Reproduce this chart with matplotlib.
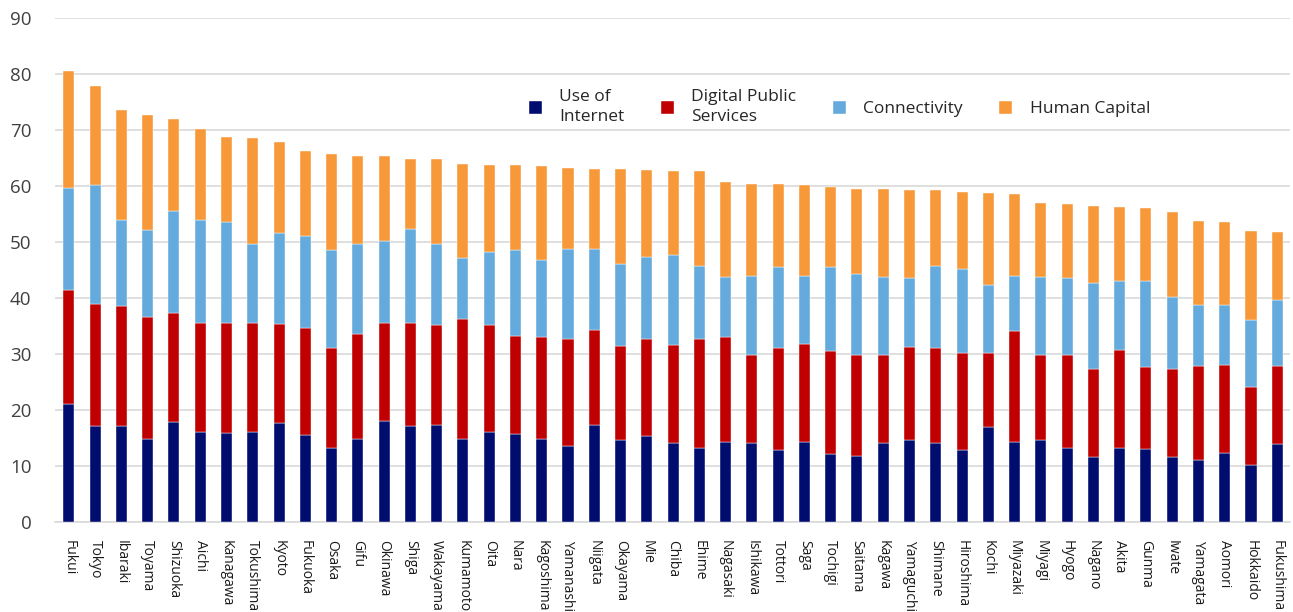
import numpy as np
import matplotlib
matplotlib.use("Agg")
import matplotlib.pyplot as plt

plt.rcParams['font.family'] = ['Open Sans', 'DejaVu Sans']

# Prefectures, ordered by total score
prefectures = ["Fukui", "Tokyo", "Ibaraki", "Toyama", "Shizuoka", "Aichi", "Kanagawa", "Tokushima",
               "Kyoto", "Fukuoka", "Osaka", "Gifu", "Okinawa", "Shiga", "Wakayama", "Kumamoto",
               "Oita", "Nara", "Kagoshima", "Yamanashi", "Niigata", "Okayama", "Mie", "Chiba",
               "Ehime", "Nagasaki", "Ishikawa", "Tottori", "Saga", "Tochigi", "Saitama", "Kagawa",
               "Yamaguchi", "Shimane", "Hiroshima", "Kochi", "Miyazaki", "Miyagi", "Hyogo", "Nagano",
               "Akita", "Gunma", "Iwate", "Yamagata", "Aomori", "Hokkaido", "Fukushima"]

use_of_internet = [21.1, 17.1, 17.1, 14.9, 17.9, 16.1, 15.9, 16.1, 17.6, 15.6, 13.2, 14.9, 18.1, 17.1,
                   17.4, 14.8, 16.1, 15.8, 14.8, 13.6, 17.3, 14.6, 15.4, 14.1, 13.3, 14.3, 14.1, 12.9,
                   14.3, 12.1, 11.8, 14.1, 14.6, 14.1, 12.9, 16.9, 14.3, 14.6, 13.3, 11.6, 13.3, 13.1,
                   11.6, 11.1, 12.3, 10.1, 13.9]
digital_public = [20.3, 21.8, 21.5, 21.7, 19.4, 19.5, 19.7, 19.5, 17.8, 19.0, 17.9, 18.7, 17.5, 18.5,
                  17.7, 21.5, 19.0, 17.5, 18.3, 19.0, 17.0, 16.8, 17.2, 17.5, 19.3, 18.8, 15.7, 18.2,
                  17.5, 18.5, 18.0, 15.7, 16.7, 17.0, 17.2, 13.2, 19.8, 15.2, 16.5, 15.7, 17.5, 14.5,
                  15.7, 16.7, 15.8, 14.0, 13.9]
connectivity = [18.2, 21.2, 15.4, 15.5, 18.2, 18.4, 18.0, 14.0, 16.2, 16.5, 17.5, 16.0, 14.5, 16.7,
                14.5, 10.8, 13.2, 15.3, 13.7, 16.2, 14.5, 14.7, 14.7, 16.0, 13.2, 10.7, 14.2, 14.4,
                12.2, 14.9, 14.5, 14.0, 12.3, 14.7, 15.0, 12.2, 9.9, 14.0, 13.8, 15.3, 12.2, 15.4,
                12.8, 11.0, 10.7, 12.0, 11.8]
human_capital = [20.9, 17.7, 19.5, 20.5, 16.5, 16.1, 15.2, 19.0, 16.2, 15.2, 17.2, 15.7, 15.2, 12.5,
                 15.2, 16.9, 15.5, 15.2, 16.7, 14.5, 14.2, 16.9, 15.5, 15.0, 16.8, 17.0, 16.3, 14.8,
                 16.1, 14.3, 15.2, 15.7, 15.7, 13.5, 13.9, 16.5, 14.5, 13.2, 13.2, 13.9, 13.3, 13.0,
                 15.2, 15.0, 14.7, 15.9, 12.2]

series = [
    ("Use of\nInternet", use_of_internet, "#000C6E"),
    ("Digital Public\nServices", digital_public, "#C00000"),
    ("Connectivity", connectivity, "#65AADC"),
    ("Human Capital", human_capital, "#F79839"),
]

fig = plt.figure(figsize=(12.93, 6.12), dpi=100)
ax = fig.add_axes([0.0425, 0.147, 0.9555, 0.8236])

x = np.arange(len(prefectures))
bottom = np.zeros(len(prefectures))
for label, vals, col in series:
    vals = np.array(vals)
    ax.bar(x, vals, width=0.42, bottom=bottom, color=col, label=label,
           edgecolor="white", linewidth=0.3, zorder=3)
    bottom += vals

ax.set_ylim(0, 90)
ax.set_yticks(np.arange(0, 91, 10))
ax.set_xlim(-0.53, len(prefectures) - 0.5)
ax.set_xticks(x)
ax.set_xticklabels(prefectures, rotation=270, fontsize=10, color="#1a1a1a",
                   ha="center", va="top")
ax.tick_params(axis="x", length=0, pad=13)
ax.tick_params(axis="y", length=0, pad=17, labelsize=13.5, labelcolor="#404040")

ax.yaxis.grid(True, color="#D9D9D9", linewidth=1.2, zorder=0)
for s in ["top", "right", "left"]:
    ax.spines[s].set_visible(False)
ax.spines["bottom"].set_color("#D9D9D9")
ax.spines["bottom"].set_linewidth(1.2)

leg = ax.legend(ncol=4, loc="center", bbox_to_anchor=(0.635, 0.823), frameon=False,
                fontsize=12.5, handlelength=0.75, handleheight=0.75, handletextpad=1.0,
                columnspacing=2.1, labelcolor="#262626")
for t in leg.get_texts():
    t.set_linespacing(1.35)

fig.savefig("out.png", dpi=100)
plt.close()
